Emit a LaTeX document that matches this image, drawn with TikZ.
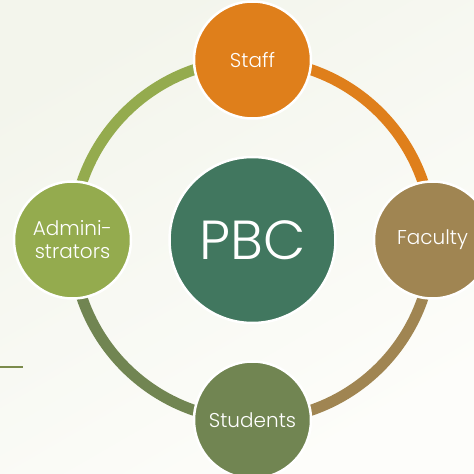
\documentclass[tikz,border=0pt]{standalone}
\usepackage{fontspec}
\setmainfont{Poppins Light}
\definecolor{bgA}{HTML}{F3F5EC}
\definecolor{bgB}{HTML}{FDFDFA}
\definecolor{staffc}{HTML}{DF7F1B}
\definecolor{facc}{HTML}{A08552}
\definecolor{studc}{HTML}{718552}
\definecolor{admc}{HTML}{94AB4E}
\definecolor{pbcc}{HTML}{41775F}
\definecolor{linec}{HTML}{7B8B4B}
\tikzset{
  ring/.style={line width=11pt},
  bub/.style={circle, fill=#1, draw=white, line width=2.5pt, minimum size=117pt, inner sep=0pt, text=white, font=\fontsize{20}{23}\selectfont, align=center},
}
\begin{document}
\begin{tikzpicture}[x=1pt,y=1pt]
\useasboundingbox (0,0) rectangle (474,474);
\shade[top color=bgA, bottom color=bgB, shading angle=30] (0,0) rectangle (474,474);
\coordinate (c) at (252.5,234);
% ring arcs
\draw[ring, staffc] (c) ++(90:180) arc[start angle=90, end angle=0, radius=180];
\draw[ring, facc] (c) ++(0:180) arc[start angle=0, end angle=-90, radius=180];
\draw[ring, studc] (c) ++(-90:180) arc[start angle=-90, end angle=-180, radius=180];
\draw[ring, admc] (c) ++(180:180) arc[start angle=180, end angle=90, radius=180];
% nodes
\node[bub=pbcc, minimum size=166pt, font=\fontsize{55}{60}\selectfont] (pbc) at (c) {PBC};
\node[bub=staffc] (staff) at ([yshift=180pt]c) {Staff};
\node[bub=facc] (fac) at ([xshift=180pt]c) {Faculty};
\node[bub=studc] (stud) at ([yshift=-180pt]c) {Students};
\node[bub=admc] (adm) at ([xshift=-180pt]c) {Admini-\\strators};
% left rule
\coordinate (l1) at (0,107);
\coordinate (l2) at (23,107);
\draw[linec, line width=1.5pt] (l1) -- (l2);
\end{tikzpicture}
\end{document}
